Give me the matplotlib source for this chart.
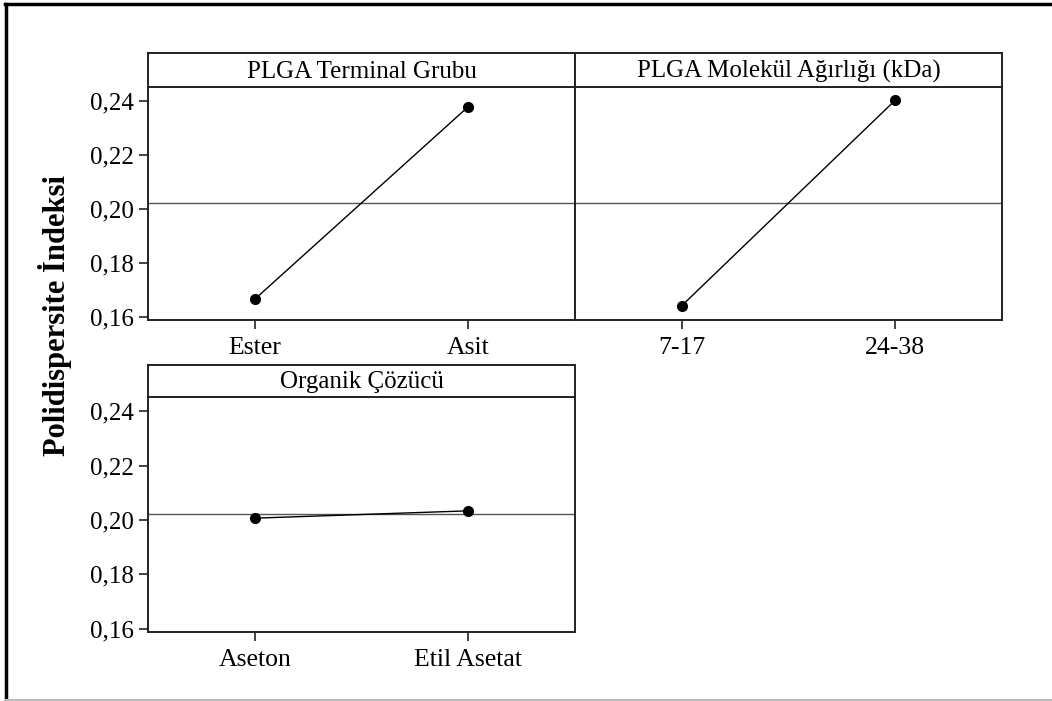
import matplotlib.pyplot as plt
from matplotlib.lines import Line2D

plt.rcParams['font.family'] = ['Liberation Serif', 'DejaVu Serif']

# main effects for the polydispersity index
factors = ["PLGA Terminal Grubu", "PLGA Molekül Ağırlığı (kDa)", "Organik Çözücü"]
levels = [["Ester", "Asit"], ["7-17", "24-38"], ["Aseton", "Etil Asetat"]]
means = [[0.1665, 0.2380], [0.1641, 0.2404], [0.2007, 0.2034]]
grand_mean = 0.2022
yticks = [0.16, 0.18, 0.20, 0.22, 0.24]
ytick_labels = ["0,16", "0,18", "0,20", "0,22", "0,24"]
ylabel = "Polidispersite İndeksi"

W, H = 1052, 701
fig = plt.figure(figsize=(W / 100, H / 100), dpi=100)


def px_box(x0, y0, x1, y1):
    # pixel box (top-left origin) -> figure rect
    return [x0 / W, 1 - y1 / H, (x1 - x0) / W, (y1 - y0) / H]


# (left, strip top, strip bottom, axes bottom, right) in pixels
panels = [
    (148, 53, 87, 320, 575),
    (575, 53, 87, 320, 1002),
    (148, 365, 397, 632, 575),
]

spine_color = "#222222"
for i, (x0, s0, s1, y1, x1) in enumerate(panels):
    ax = fig.add_axes(px_box(x0, s1, x1, y1))
    ax.axhline(grand_mean, color="#555555", lw=1.0, zorder=1)
    ax.plot([0, 1], means[i], color="black", lw=1.0, marker="o",
            markersize=7, zorder=3)
    ax.set_xlim(-0.5, 1.5)
    ax.set_ylim(0.1588, 0.2453)
    ax.set_xticks([0, 1])
    ax.set_xticklabels(levels[i], fontsize=18.5)
    ax.set_yticks(yticks)
    if i == 1:
        ax.tick_params(axis="y", left=False, labelleft=False)
    else:
        ax.set_yticklabels(ytick_labels, fontsize=18)
    ax.tick_params(axis="both", direction="out", length=6.5, width=1.2,
                   colors=spine_color, labelcolor="black")
    ax.tick_params(axis="x", pad=6)
    ax.tick_params(axis="y", pad=4)
    for sp in ax.spines.values():
        sp.set_color(spine_color)
        sp.set_linewidth(1.4)

    strip = fig.add_axes(px_box(x0, s0, x1, s1))
    strip.set_xticks([])
    strip.set_yticks([])
    for sp in strip.spines.values():
        sp.set_color(spine_color)
        sp.set_linewidth(1.4)
    base = 9 / (s1 - s0)
    strip.text(0.5, base, factors[i], ha="center", va="baseline",
               fontsize=18, transform=strip.transAxes)

fig.text(55 / W, 1 - 315 / H, ylabel, rotation=90, ha="center",
         va="center", fontsize=22, fontweight="bold")

# page frame: black left and top, light gray bottom
fig.add_artist(Line2D([6 / W, 6 / W], [0.0, 1 - 4 / H], color="black",
                      lw=2.5, transform=fig.transFigure))
fig.add_artist(Line2D([5 / W, 1.0], [1 - 4 / H, 1 - 4 / H], color="black",
                      lw=2.5, transform=fig.transFigure))
fig.add_artist(Line2D([6 / W, 1.0], [1 - 699.5 / H, 1 - 699.5 / H],
                      color="#bbbbbb", lw=1.5, transform=fig.transFigure))

fig.savefig("out.png", dpi=100)
